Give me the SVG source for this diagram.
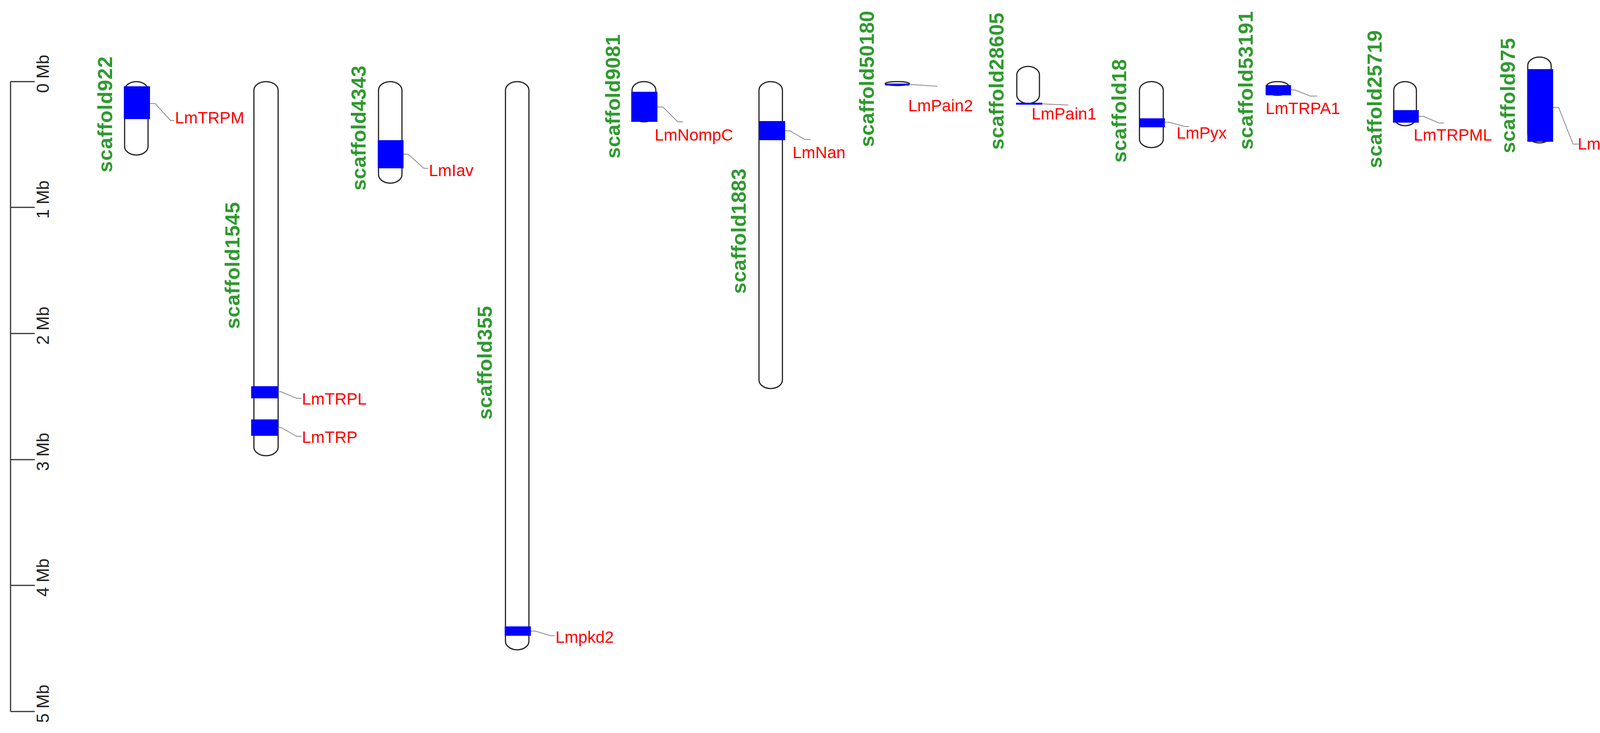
<svg xmlns="http://www.w3.org/2000/svg" width="4248" height="1877" viewBox="0 0 4248 1877">
<style>
.ax{stroke:#333;stroke-width:3;fill:none}
.tk{font-family:"Liberation Sans",Arial,sans-serif;font-size:44px;fill:#222;text-anchor:middle}
.chr{fill:#fff;stroke:#222;stroke-width:3}
.band{fill:#0000ff}
.sc{font-family:"Liberation Sans",Arial,sans-serif;font-size:52px;font-weight:bold;fill:#2e9a2e;text-anchor:middle}
.gn{font-family:"Liberation Sans",Arial,sans-serif;font-size:42px;fill:#ff0000}
.cn{stroke:#888;stroke-width:2;fill:none}
</style>
<rect width="4248" height="1877" fill="#fff"/>
<g id="axis">
<path class="ax" d="M27,209 V1822 M27,209 H89 M27,531 H89 M27,854 H89 M27,1177 H89 M27,1499 H89 M27,1822 H89"/>
<text class="tk" transform="translate(125,189) rotate(-90)">0 Mb</text>
<text class="tk" transform="translate(125,511) rotate(-90)">1 Mb</text>
<text class="tk" transform="translate(125,834) rotate(-90)">2 Mb</text>
<text class="tk" transform="translate(125,1157) rotate(-90)">3 Mb</text>
<text class="tk" transform="translate(125,1479) rotate(-90)">4 Mb</text>
<text class="tk" transform="translate(125,1802) rotate(-90)">5 Mb</text>
</g>
<g id="scaffold922">
<rect class="chr" x="319" y="209" width="60" height="188" rx="30" ry="22"/>
<rect class="band" x="317" y="221" width="67" height="84"/>
<text class="sc" transform="translate(287,293) rotate(-90)" textLength="297" lengthAdjust="spacing">scaffold922</text>
<text class="gn" x="448" y="316">LmTRPM</text>
</g>
<g id="scaffold1545">
<rect class="chr" x="650" y="209" width="62" height="958" rx="31" ry="22"/>
<rect class="band" x="643" y="989" width="69" height="31"/>
<rect class="band" x="643" y="1074" width="69" height="42"/>
<text class="sc" transform="translate(613,680) rotate(-90)" textLength="325" lengthAdjust="spacing">scaffold1545</text>
<text class="gn" x="773" y="1036">LmTRPL</text>
<text class="gn" x="773" y="1134">LmTRP</text>
</g>
<g id="scaffold4343">
<rect class="chr" x="969" y="209" width="60" height="260" rx="30" ry="22"/>
<rect class="band" x="967" y="359" width="66" height="72"/>
<text class="sc" transform="translate(936,328) rotate(-90)" textLength="320" lengthAdjust="spacing">scaffold4343</text>
<text class="gn" x="1098" y="451">LmIav</text>
</g>
<g id="scaffold355">
<rect class="chr" x="1294" y="209" width="60" height="1455" rx="30" ry="22"/>
<rect class="band" x="1292" y="1604" width="67" height="24"/>
<text class="sc" transform="translate(1259,929) rotate(-90)" textLength="291" lengthAdjust="spacing">scaffold355</text>
<text class="gn" x="1422" y="1646">Lmpkd2</text>
</g>
<g id="scaffold9081">
<rect class="chr" x="1618" y="209" width="61" height="103" rx="30" ry="22"/>
<rect class="band" x="1616" y="235" width="67" height="77"/>
<text class="sc" transform="translate(1587,247) rotate(-90)" textLength="318" lengthAdjust="spacing">scaffold9081</text>
<text class="gn" x="1676" y="360">LmNompC</text>
</g>
<g id="scaffold1883">
<rect class="chr" x="1943" y="209" width="60" height="786" rx="30" ry="22"/>
<rect class="band" x="1943" y="310" width="67" height="49"/>
<text class="sc" transform="translate(1909,592) rotate(-90)" textLength="321" lengthAdjust="spacing">scaffold1883</text>
<text class="gn" x="2029" y="405">LmNan</text>
</g>
<g id="scaffold50180">
<rect class="chr" x="2266" y="209" width="62" height="10" rx="31" ry="5"/>
<rect class="band" x="2266" y="214" width="62" height="5"/>
<text class="sc" transform="translate(2237,202) rotate(-90)" textLength="349" lengthAdjust="spacing">scaffold50180</text>
<text class="gn" x="2325" y="285">LmPain2</text>
</g>
<g id="scaffold28605">
<rect class="chr" x="2603" y="170" width="58" height="95" rx="29" ry="22"/>
<rect class="band" x="2601" y="263" width="67" height="5"/>
<text class="sc" transform="translate(2569,208) rotate(-90)" textLength="351" lengthAdjust="spacing">scaffold28605</text>
<text class="gn" x="2641" y="306">LmPain1</text>
</g>
<g id="scaffold18">
<rect class="chr" x="2917" y="209" width="61" height="169" rx="30" ry="22"/>
<rect class="band" x="2917" y="303" width="65" height="23"/>
<text class="sc" transform="translate(2883,284) rotate(-90)" textLength="265" lengthAdjust="spacing">scaffold18</text>
<text class="gn" x="3012" y="355">LmPyx</text>
</g>
<g id="scaffold53191">
<rect class="chr" x="3242" y="209" width="57" height="35" rx="28" ry="12"/>
<rect class="band" x="3240" y="218" width="65" height="26"/>
<text class="sc" transform="translate(3207,206) rotate(-90)" textLength="355" lengthAdjust="spacing">scaffold53191</text>
<text class="gn" x="3240" y="292">LmTRPA1</text>
</g>
<g id="scaffold25719">
<rect class="chr" x="3568" y="209" width="58" height="113" rx="29" ry="22"/>
<rect class="band" x="3566" y="282" width="66" height="32"/>
<text class="sc" transform="translate(3537,254) rotate(-90)" textLength="353" lengthAdjust="spacing">scaffold25719</text>
<text class="gn" x="3619" y="360">LmTRPML</text>
</g>
<g id="scaffold975">
<rect class="chr" x="3911" y="146" width="60" height="220" rx="30" ry="22"/>
<rect class="band" x="3910" y="177" width="66" height="186"/>
<text class="sc" transform="translate(3878,245) rotate(-90)" textLength="295" lengthAdjust="spacing">scaffold975</text>
<text class="gn" x="4039" y="383">LmTRPγ</text>
</g>
<g id="connectors">
<path class="cn" d="M384,265 H397 L437,309 H446"/>
<path class="cn" d="M712,1003 H719 L759,1020 H772"/>
<path class="cn" d="M712,1095 H720 L759,1117 H772"/>
<path class="cn" d="M1033,395 H1045 L1085,431 H1096"/>
<path class="cn" d="M1359,1616 H1370 L1410,1628 H1420"/>
<path class="cn" d="M1683,274 H1697 L1735,312 H1749"/>
<path class="cn" d="M2010,335 H2022 L2060,357 H2075"/>
<path class="cn" d="M2328,216 L2400,221"/>
<path class="cn" d="M2668,266 L2735,269"/>
<path class="cn" d="M2982,313 H2993 L3033,324 H3044"/>
<path class="cn" d="M3305,230 H3314 L3354,246 H3372"/>
<path class="cn" d="M3632,298 H3644 L3684,315 H3696"/>
<path class="cn" d="M3976,275 H3990 L4027,369 H4041"/>
</g>
</svg>
